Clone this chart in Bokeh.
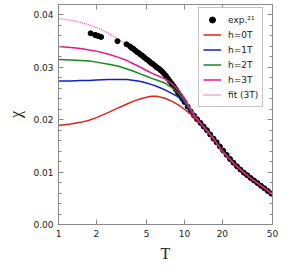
from bokeh.plotting import figure
from bokeh.models import (LogAxis, LinearAxis, FixedTicker, PrintfTickFormatter,
                          CustomJSTickFormatter, Legend, LegendItem, Range1d)
from bokeh.embed import file_html
from bokeh.resources import INLINE

# ---- data ----
T_grid = [1, 1.25, 1.5, 1.75, 2, 2.5, 3, 3.5, 4, 4.5, 5, 5.5, 6, 7, 8, 9, 10, 11, 12,
          13, 14, 15, 17, 20, 25, 30, 35, 40, 45, 50]
chi_h0 = [0.0189, 0.0192, 0.0195, 0.0199, 0.0204, 0.0214, 0.0223, 0.0230, 0.0236, 0.0240,
          0.0243, 0.0245, 0.0245, 0.0241, 0.0235, 0.0228, 0.0220, 0.0212, 0.0204,
          0.0196, 0.0188, 0.0180, 0.0164, 0.0140, 0.0115, 0.0098, 0.0085, 0.0075, 0.0066, 0.0058]
chi_h1 = [0.0274, 0.0274, 0.0275, 0.0275, 0.0276, 0.0277, 0.0277, 0.0277, 0.0275, 0.0273,
          0.0270, 0.0267, 0.0264, 0.0257, 0.0250, 0.0243, 0.0233, 0.0219, 0.0207,
          0.0197, 0.0188, 0.0180, 0.0164, 0.0140, 0.0115, 0.0098, 0.0085, 0.0075, 0.0066, 0.0058]
chi_h2 = [0.0315, 0.0314, 0.0313, 0.0312, 0.0310, 0.0306, 0.0302, 0.0297, 0.0292, 0.0287,
          0.0283, 0.0279, 0.0276, 0.0270, 0.0261, 0.0250, 0.0237, 0.0221, 0.0208,
          0.0197, 0.0188, 0.0180, 0.0164, 0.0140, 0.0115, 0.0098, 0.0085, 0.0075, 0.0066, 0.0058]
chi_h3 = [0.0340, 0.0338, 0.0336, 0.0333, 0.0331, 0.0325, 0.0319, 0.0313, 0.0306, 0.0300,
          0.0294, 0.0289, 0.0285, 0.0278, 0.0268, 0.0256, 0.0241, 0.0223, 0.0209,
          0.0198, 0.0188, 0.0180, 0.0164, 0.0140, 0.0115, 0.0098, 0.0085, 0.0075, 0.0066, 0.0058]
chi_fit = [0.0393, 0.0390, 0.0386, 0.0381, 0.0376, 0.0365, 0.0353, 0.0343, 0.0333, 0.0324,
           0.0315, 0.0308, 0.0301, 0.0286, 0.0267, 0.0250, 0.0234, 0.0219, 0.0207,
           0.0197, 0.0188, 0.0180, 0.0164, 0.0140, 0.0115, 0.0098, 0.0085, 0.0075, 0.0066, 0.0058]

exp_T = [1.80, 1.95, 2.00, 2.07, 2.18, 2.94, 3.47, 3.70, 3.82, 3.95, 4.08, 4.22, 4.36, 4.50,
         4.65, 4.80, 4.96, 5.12, 5.29, 5.46, 5.64, 5.83, 6.02, 6.22, 6.43, 6.65, 6.88, 7.12,
         7.37, 7.64, 7.92, 8.22, 8.54, 8.88, 9.24, 9.62, 10.0, 10.6, 11.2, 11.9, 12.6, 13.4,
         14.2, 15.1, 16.0, 17.0, 18.0, 19.1, 20.3, 21.6, 23.0, 24.5, 26.1, 27.8, 29.6, 31.5,
         33.5, 35.7, 38.0, 40.5, 43.1, 45.9, 48.9]
exp_chi = [0.0365, 0.0362, 0.0361, 0.0360, 0.0358, 0.0350, 0.0344, 0.0340, 0.0337, 0.0335,
           0.0332, 0.0329, 0.0327, 0.0324, 0.0322, 0.0319, 0.0316, 0.0314, 0.0311, 0.0308,
           0.0306, 0.0303, 0.0300, 0.0298, 0.0295, 0.0292, 0.0288, 0.0284, 0.0279, 0.0274,
           0.0269, 0.0264, 0.0258, 0.0252, 0.0246, 0.0240, 0.0234, 0.0225, 0.0216, 0.0208,
           0.0201, 0.0194, 0.0187, 0.0180, 0.0172, 0.0164, 0.0157, 0.0149, 0.0141, 0.0133,
           0.0125, 0.0118, 0.0111, 0.0105, 0.0099, 0.0094, 0.0089, 0.0084, 0.0079, 0.0074,
           0.0069, 0.0064, 0.0059]

x_ticks = [1, 2, 5, 10, 20, 50]
x_labels = ["1", "2", "5", "10", "20", "50"]
y_ticks = [0.0, 0.01, 0.02, 0.03, 0.04]
y_minor = [0.002, 0.004, 0.006, 0.008, 0.012, 0.014, 0.016, 0.018, 0.022, 0.024, 0.026,
           0.028, 0.032, 0.034, 0.036, 0.038, 0.040]

AX = "#8a8a8a"
LBL = "#222222"
TICKFONT = "DejaVu Sans"

p = figure(width=291, height=268, x_axis_type="log",
           x_range=Range1d(1, 50), y_range=Range1d(0, 0.0420),
           output_backend="svg", toolbar_location=None,
           min_border_left=58, min_border_right=19, min_border_top=4, min_border_bottom=44)
p.grid.visible = False
p.outline_line_color = AX
p.background_fill_color = "white"
p.border_fill_color = "white"

xt = FixedTicker(ticks=x_ticks, minor_ticks=[])
yt = FixedTicker(ticks=y_ticks, minor_ticks=y_minor)

def style(ax, labels=True):
    ax.axis_line_color = AX
    ax.major_tick_line_color = AX
    ax.minor_tick_line_color = AX
    ax.major_tick_in = 5
    ax.major_tick_out = 0
    ax.minor_tick_in = 3
    ax.minor_tick_out = 0
    if labels:
        ax.major_label_text_font = TICKFONT
        ax.major_label_text_font_size = "9px"
        ax.major_label_text_color = LBL
        ax.major_label_standoff = 5
    else:
        ax.formatter = CustomJSTickFormatter(code="return ''")
        ax.major_label_standoff = 0

xa = p.xaxis[0]
xa.ticker = xt
xa.major_label_overrides = {t: s for t, s in zip(x_ticks, x_labels)}
style(xa)
xa.axis_label = "T"
xa.axis_label_text_font = "Liberation Serif"
xa.axis_label_text_font_style = "normal"
xa.axis_label_text_font_size = "16px"
xa.axis_label_text_color = LBL
xa.axis_label_standoff = 5

ya = p.yaxis[0]
ya.ticker = yt
ya.formatter = PrintfTickFormatter(format="%.2f")
style(ya)
ya.axis_label = "χ"
ya.axis_label_text_font = "Liberation Serif"
ya.axis_label_text_font_style = "normal"
ya.axis_label_text_font_size = "16px"
ya.axis_label_text_color = LBL
ya.axis_label_standoff = 6

top = LogAxis(ticker=FixedTicker(ticks=x_ticks, minor_ticks=[]))
style(top, labels=False)
p.add_layout(top, "above")
right = LinearAxis(ticker=FixedTicker(ticks=y_ticks, minor_ticks=y_minor))
style(right, labels=False)
p.add_layout(right, "right")

r_fit = p.line(T_grid, chi_fit, line_color="#ff4fae", line_width=1.3, line_dash="1 1")
r_exp = p.scatter(exp_T, exp_chi, size=5, fill_color="black", line_color="black")
r0 = p.line(T_grid, chi_h0, line_color="#e3231c", line_width=1.5)
r1 = p.line(T_grid, chi_h1, line_color="#1020c0", line_width=1.5)
r2 = p.line(T_grid, chi_h2, line_color="#16891e", line_width=1.5)
r3 = p.line(T_grid, chi_h3, line_color="#f0148a", line_width=1.5)

legend = Legend(items=[
    LegendItem(label="exp.²¹", renderers=[r_exp]),
    LegendItem(label="h=0T", renderers=[r0]),
    LegendItem(label="h=1T", renderers=[r1]),
    LegendItem(label="h=2T", renderers=[r2]),
    LegendItem(label="h=3T", renderers=[r3]),
    LegendItem(label="fit (3T)", renderers=[r_fit]),
], location=(140, 117))
legend.label_text_font = TICKFONT
legend.label_text_font_size = "9px"
legend.label_text_color = LBL
legend.glyph_width = 18
legend.glyph_height = 15
legend.label_height = 15
legend.label_standoff = 7
legend.spacing = 0
legend.padding = 4
legend.margin = 0
legend.border_line_color = AX
legend.background_fill_alpha = 1.0
p.add_layout(legend, "center")

open("out.html", "w").write(file_html(p, INLINE))
